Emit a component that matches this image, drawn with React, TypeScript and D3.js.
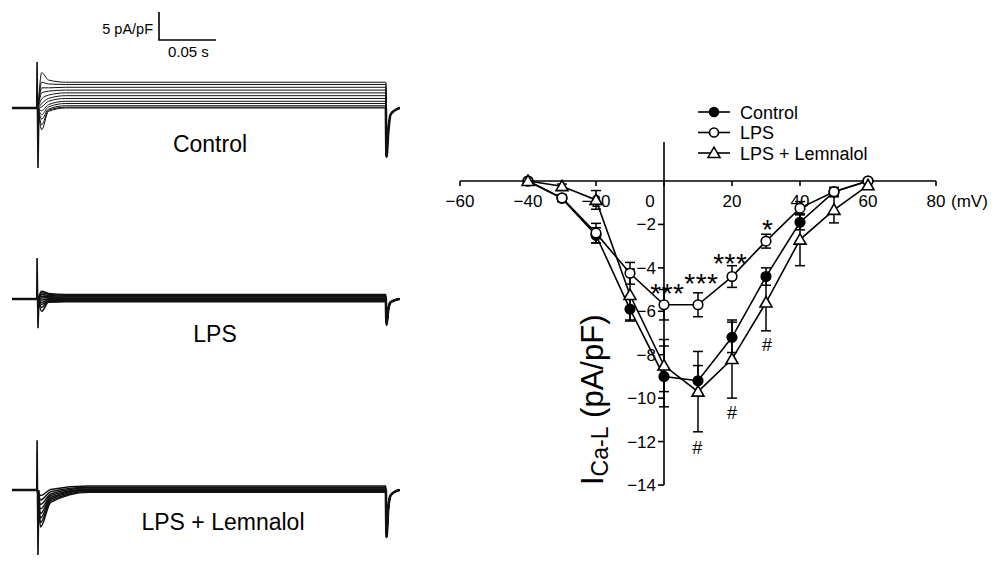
import React, { useEffect, useRef } from 'react';
import * as d3 from 'd3';

// ---- I-V curve data (mV, pA/pF) ----
const voltages = [-40, -30, -20, -10, 0, 10, 20, 30, 40, 50, 60];
const controlMean = [0, -0.8, -2.5, -5.9, -9.0, -9.2, -7.2, -4.4, -1.9, -0.5, 0];
const controlErr = [0.05, 0.15, 0.35, 0.5, 1.4, 0.7, 0.7, 0.4, 0.35, 0.2, 0.05];
const lpsMean = [0, -0.78, -2.4, -4.25, -5.7, -5.7, -4.4, -2.77, -1.25, -0.5, 0];
const lpsErr = [0.05, 0.15, 0.45, 0.5, 0.7, 0.55, 0.5, 0.32, 0.3, 0.2, 0.05];
const lemMean = [0, -0.24, -0.87, -5.25, -8.5, -9.7, -8.2, -5.6, -2.7, -1.33, -0.2];
const lemErr = [0, 0.1, 0.43, 1.2, 1.2, 1.85, 1.8, 1.3, 1.2, 0.6, 0.1];

const xTicks = [-60, -40, -20, 0, 20, 40, 60, 80];
const yTicks = [-2, -4, -6, -8, -10, -12, -14];

const legendNames = ['Control', 'LPS', 'LPS + Lemnalol'];

// significance marks: [mV, baseline in pA/pF, text]
const starMarks: [number, number, string][] = [
  [1, -5.62, '***'],
  [11, -5.16, '***'],
  [19.5, -4.24, '***'],
  [30.5, -2.67, '*'],
];
const hashMarks: [number, number][] = [
  [9.8, -12.55],
  [20, -10.94],
  [30.3, -7.85],
];

// ---- current traces (s, pA/pF) ----
const stepOn = 0.022;
const stepOff = 0.328;
const traceEnd = 0.34;

const controlEarly = [6.3, 4.6, 3.6, 2.7, 1.6, 0.8, 0.2, -0.5, -1.2, -2.0, -3.0, -3.9];
const controlMid = [5.0, 4.3, 3.6, 3.0, 2.3, 1.7, 1.2, 0.6, 0.2, -0.2, -0.4, -0.6];
const controlLevel = [4.6, 4.2, 3.7, 3.2, 2.7, 2.2, 1.7, 1.2, 0.8, 0.4, 0.15, 0];
const controlSpike = [8.2, -10.7];
const controlTail: [number, number][] = [[0.0005, -8.7], [0.002, -4.5], [0.004, -1.2], [0.008, -0.4], [0.012, 0]];

const lpsEarly = [1.4, 1.1, 0.8, 0.5, 0.2, -0.2, -0.6, -1.0, -1.5, -2.2];
const lpsMid = [1.0, 0.85, 0.65, 0.45, 0.25, 0.05, -0.15, -0.3, -0.45, -0.6];
const lpsLevel = [0.8, 0.65, 0.5, 0.35, 0.2, 0.05, -0.1, -0.25, -0.4, -0.5];
const lpsSpike = [7.3, -5.2];
const lpsTail: [number, number][] = [[0.0005, -4.6], [0.002, -2.0], [0.004, -0.6], [0.008, -0.2], [0.012, 0]];

const lemEarly = [-1.0, -1.8, -2.6, -3.4, -4.2, -5.0, -5.8, -6.6];
const lemMid = [0.1, -0.3, -0.7, -1.0, -1.3, -1.6, -1.9, -2.2];
const lemLevel = [0.7, 0.5, 0.35, 0.2, 0.05, -0.1, -0.25, -0.4];
const lemSpike = [8.9, -11.6];
const lemTail: [number, number][] = [[0.0005, -8.4], [0.002, -3.5], [0.004, -1.0], [0.008, -0.3], [0.012, 0]];

const FONT = '"Liberation Sans", Arial, Helvetica, sans-serif';

const App = () => {
  const ref = useRef<SVGSVGElement>(null);

  useEffect(() => {
    const svg = d3.select(ref.current);
    svg.selectAll('*').remove();
    svg.style('font-family', FONT);

    // ================= traces =================
    const t = d3.scaleLinear().domain([0, traceEnd]).range([12, 399.6]);

    const panels = [
      { baseY: 108, early: controlEarly, mid: controlMid, level: controlLevel, spike: controlSpike, tail: controlTail, times: [0.004, 0.01, 0.025], width: 1, label: 'Control', lx: 210, ly: 152 },
      { baseY: 299, early: lpsEarly, mid: lpsMid, level: lpsLevel, spike: lpsSpike, tail: lpsTail, times: [0.004, 0.01, 0.025], width: 1.5, label: 'LPS', lx: 215, ly: 342 },
      { baseY: 490, early: lemEarly, mid: lemMid, level: lemLevel, spike: lemSpike, tail: lemTail, times: [0.003, 0.012, 0.045], width: 1.5, label: 'LPS + Lemnalol', lx: 223, ly: 530 },
    ];

    panels.forEach(p => {
      const v = d3.scaleLinear().domain([0, 5]).range([p.baseY, p.baseY - 28]);
      const line = d3.line<[number, number]>()
        .x(d => t(d[0])).y(d => v(d[1]))
        .curve(d3.curveMonotoneX);
      const g = svg.append('g').attr('fill', 'none').attr('stroke', '#111');

      p.level.forEach((lv, i) => {
        const pts: [number, number][] = [
          [0, 0], [stepOn, 0],
          [stepOn + p.times[0], p.early[i]],
          [stepOn + p.times[1], p.mid[i]],
          [stepOn + p.times[2], lv],
          [stepOff, lv],
          ...p.tail.map(([dt, val]) => [stepOff + dt, val] as [number, number]),
        ];
        g.append('path').attr('d', line(pts)).attr('stroke-width', p.width);
      });

      // holding baseline
      g.append('path')
        .attr('d', d3.line<[number, number]>().x(d => t(d[0])).y(d => v(d[1]))([[0, 0], [stepOn, 0]]))
        .attr('stroke-width', 2.5);

      // capacitive transient at step onset
      g.append('path')
        .attr('d', d3.line<[number, number]>().x(d => t(d[0])).y(d => v(d[1]))([
          [stepOn - 0.0003, 0], [stepOn, p.spike[0]], [stepOn + 0.0008, p.spike[1]], [stepOn + 0.0016, 0],
        ]))
        .attr('stroke-width', 1.6);

      // tail at step offset
      g.append('path')
        .attr('d', line([[stepOff, 0], ...p.tail.map(([dt, val]) => [stepOff + dt, val] as [number, number])]))
        .attr('stroke-width', 2.6);

      svg.append('text')
        .attr('x', p.lx).attr('y', p.ly)
        .attr('text-anchor', 'middle')
        .attr('font-size', 23)
        .text(p.label);
    });

    // scale bar
    const sb = svg.append('g').attr('stroke', '#000').attr('stroke-width', 1.6).attr('fill', 'none');
    const barLen = t(0.05) - t(0);
    sb.append('path').attr('d', `M159,12V40H${159 + barLen}`);
    svg.append('text').attr('x', 153).attr('y', 34).attr('text-anchor', 'end').attr('font-size', 14.5).text('5 pA/pF');
    svg.append('text').attr('x', 168).attr('y', 57).attr('font-size', 15).text('0.05 s');

    // ================= I-V plot =================
    const x = d3.scaleLinear().domain([-60, 80]).range([460, 936]);
    const y = d3.scaleLinear().domain([0, -14]).range([181, 485]);
    const fmt = (n: number) => (n < 0 ? '\u2212' + Math.abs(n) : String(n));

    const ax = svg.append('g').attr('stroke', '#000').attr('stroke-width', 1.6);
    ax.append('line').attr('x1', x(-60)).attr('x2', x(80)).attr('y1', y(0)).attr('y2', y(0));
    xTicks.forEach(tk => {
      ax.append('line').attr('x1', x(tk)).attr('x2', x(tk)).attr('y1', y(0)).attr('y2', y(0) + 5);
      svg.append('text')
        .attr('x', x(tk) + (tk === 0 ? -14 : 0)).attr('y', y(0) + 26)
        .attr('text-anchor', 'middle').attr('font-size', 17)
        .text(fmt(tk));
    });
    svg.append('text').attr('x', 951).attr('y', y(0) + 26).attr('font-size', 17).text('(mV)');

    ax.append('line').attr('x1', x(0)).attr('x2', x(0)).attr('y1', 142).attr('y2', y(-14));
    yTicks.forEach(tk => {
      ax.append('line').attr('x1', x(0) - 6).attr('x2', x(0)).attr('y1', y(tk)).attr('y2', y(tk));
      svg.append('text')
        .attr('x', x(0) - 8).attr('y', y(tk) + 6)
        .attr('text-anchor', 'end').attr('font-size', 17)
        .text(fmt(tk));
    });

    // y label
    const yl = svg.append('text')
      .attr('transform', 'translate(603,485) rotate(-90)')
      .attr('font-size', 31);
    yl.append('tspan').text('I');
    yl.append('tspan').attr('font-size', 23).attr('dy', 5).text('Ca-L');
    yl.append('tspan').attr('dy', -5).text(' (pA/pF)');

    const series = [
      { mean: controlMean, err: controlErr, shape: 'circle', fill: '#000' },
      { mean: lpsMean, err: lpsErr, shape: 'circle', fill: '#fff' },
      { mean: lemMean, err: lemErr, shape: 'triangle', fill: '#fff' },
    ];

    const ebars = svg.append('g').attr('stroke', '#000').attr('stroke-width', 1.5);
    series.forEach(s => {
      voltages.forEach((mv, i) => {
        const e = s.err[i];
        if (e <= 0.06) return;
        const cx = x(mv);
        ebars.append('line').attr('x1', cx).attr('x2', cx).attr('y1', y(s.mean[i] + e)).attr('y2', y(s.mean[i] - e));
        [s.mean[i] + e, s.mean[i] - e].forEach(val => {
          ebars.append('line').attr('x1', cx - 5).attr('x2', cx + 5).attr('y1', y(val)).attr('y2', y(val));
        });
      });
    });

    const ivLine = d3.line<number>().x((_, i) => x(voltages[i])).y(d => y(d));
    series.forEach(s => {
      svg.append('path').attr('d', ivLine(s.mean)).attr('fill', 'none').attr('stroke', '#000').attr('stroke-width', 1.6);
    });

    const tri = d3.symbol(d3.symbolTriangle, 62)();
    const drawMarker = (g: any, shape: string, fill: string, cx: number, cy: number, r: number) => {
      if (shape === 'circle') {
        g.append('circle').attr('cx', cx).attr('cy', cy).attr('r', r)
          .attr('fill', fill).attr('stroke', '#000').attr('stroke-width', 1.6);
      } else {
        g.append('path').attr('d', tri).attr('transform', `translate(${cx},${cy + 1})`)
          .attr('fill', fill).attr('stroke', '#000').attr('stroke-width', 1.6);
      }
    };
    series.forEach(s => {
      const g = svg.append('g');
      voltages.forEach((mv, i) => drawMarker(g, s.shape, s.fill, x(mv), y(s.mean[i]), 4.8));
    });

    // significance marks
    starMarks.forEach(([mv, val, txt]) => {
      svg.append('text').attr('x', x(mv)).attr('y', y(val)).attr('text-anchor', 'middle')
        .attr('font-size', 28).attr('letter-spacing', 0.5).text(txt);
    });
    hashMarks.forEach(([mv, val]) => {
      svg.append('text').attr('x', x(mv)).attr('y', y(val)).attr('text-anchor', 'middle')
        .attr('font-size', 18).text('#');
    });

    // legend
    const lg = svg.append('g');
    legendNames.forEach((name, i) => {
      const ly = 112 + i * 20.5;
      lg.append('line').attr('x1', 698).attr('x2', 730).attr('y1', ly).attr('y2', ly)
        .attr('stroke', '#000').attr('stroke-width', 1.6);
      drawMarker(lg, series[i].shape, series[i].fill, 714, ly, 4.5);
      lg.append('text').attr('x', 740).attr('y', ly + 6.5).attr('font-size', 18).text(name);
    });
  }, []);

  return (
    <svg ref={ref} width={994} height={561}
      style={{ position: 'absolute', left: 0, top: 0, background: '#fff' }} />
  );
};

export default App;
